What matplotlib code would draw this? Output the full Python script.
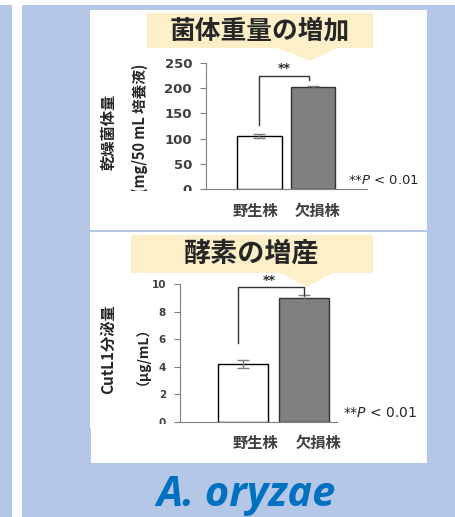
import matplotlib
matplotlib.use("Agg")
import matplotlib.pyplot as plt
from matplotlib.patches import Rectangle, Polygon

plt.rcParams['font.family'] = ['Noto Sans CJK JP', 'DejaVu Sans']

# data
strains = ['野生株', '欠損株']
mass = [105, 202]          # 乾燥菌体量 mg/50 mL
mass_err = [4, 3]
cutl1 = [4.2, 9.0]         # CutL1 分泌量 ug/mL
cutl1_err = [0.3, 0.2]
mass_ticks = [0, 50, 100, 150, 200, 250]
cutl1_ticks = [0, 2, 4, 6, 8, 10]

W, H = 455, 517
BLUE = '#b4c7e7'
TAN = '#fdefc8'
DARK = '#262626'


def fx(x):
    return x / W


def fy(y):
    return 1 - y / H


def fig_rect(fig, x0, y0, x1, y1, color, z):
    fig.patches.append(Rectangle((fx(x0), fy(y1)), fx(x1 - x0), (y1 - y0) / H,
                                 transform=fig.transFigure, facecolor=color,
                                 edgecolor='none', zorder=z))


def title_box(fig, x0, y0, x1, y1, tri, text, size):
    pts = [(x0, y0), (x1, y0), (x1, y1), (tri[1], y1), (tri[2], tri[3]),
           (tri[0], y1), (x0, y1)]
    fig.patches.append(Polygon([(fx(a), fy(b)) for a, b in pts], closed=True,
                               transform=fig.transFigure, facecolor=TAN,
                               edgecolor='none', zorder=0.3))
    fig.text(fx((x0 + x1) / 2), fy((y0 + y1) / 2), text, fontsize=size,
             fontweight='bold', color=DARK, ha='center', va='center', zorder=5)


def make_axes(fig, left, right, top, bottom):
    ax = fig.add_axes([fx(left), fy(bottom), fx(right - left), (bottom - top) / H])
    ax.set_zorder(1)
    ax.patch.set_visible(False)
    for s in ['top', 'right']:
        ax.spines[s].set_visible(False)
    ax.spines['left'].set_color('#7f7f7f')
    ax.spines['bottom'].set_color('#7f7f7f')
    ax.set_xticks([])
    ax.tick_params(axis='y', direction='out', length=4, color='#7f7f7f', pad=6)
    return ax


fig = plt.figure(figsize=(W / 100, H / 100), dpi=100)
fig.patch.set_facecolor('white')

# background
fig_rect(fig, 0, 5, 12, H, BLUE, 0.05)
fig_rect(fig, 22, 5, W, H, BLUE, 0.05)
# white panels
fig_rect(fig, 90, 10, 427, 230, 'white', 0.1)
fig_rect(fig, 90, 232, 427, 428, 'white', 0.1)
fig_rect(fig, 91, 428, 427, 463, 'white', 0.1)

# ---- panel 1 ----
title_box(fig, 147, 13, 373, 48, (277, 337, 310, 61), '菌体重量の増加', 18.5)
ax1 = make_axes(fig, 206, 367, 63, 189)
ax1.bar([0, 1], mass, width=0.84, color=['white', '#7f7f7f'],
        edgecolor=['black', '#333333'], linewidth=1, zorder=2)
ax1.errorbar([0, 1], mass, yerr=mass_err, fmt='none', ecolor='#7f7f7f',
             elinewidth=1, capsize=4, zorder=3)
ax1.set_xlim(-1.0, 2.01)
ax1.set_ylim(0, 250)
ax1.set_yticks(mass_ticks)
for t in ax1.get_yticklabels():
    t.set_fontsize(9.5)
    t.set_fontweight('bold')
    t.set_color('#404040')
    t.set_family('DejaVu Sans')
ax1.plot([0, 0, 0.93, 0.93], [127, 224, 224, 216], color='#333333', lw=1, zorder=3)
ax1.text(0.47, 226, '**', ha='center', va='bottom', fontsize=9,
         fontweight='bold', color=DARK, family='DejaVu Sans')
fig.text(fx(108), fy(132), '乾燥菌体量', rotation=90, ha='center', va='center',
         fontsize=11, fontweight='bold', color=DARK)
fig.text(fx(140), fy(64), '(mg/50 mL 培養液)', rotation=90, ha='center',
         va='top', fontsize=10.5, fontweight='bold', color=DARK, zorder=1.5)
fig.text(fx(348), fy(181), r'**$P$ < 0.01', ha='left', va='center',
         fontsize=9.5, color=DARK, family='DejaVu Sans')
fig_rect(fig, 92, 190.5, 205, 199, 'white', 2)
for xc, name in zip([255, 317], strains):
    fig.text(fx(xc), fy(211), name, ha='center', va='center', fontsize=11,
             fontweight='bold', color='#404040')

# ---- panel 2 ----
title_box(fig, 131, 235, 373, 273, (280, 333, 307, 287), '酵素の増産', 19.5)
ax2 = make_axes(fig, 180, 337, 284, 422)
ax2.bar([0, 1], cutl1, width=0.83, color=['white', '#7f7f7f'],
        edgecolor=['black', '#333333'], linewidth=1, zorder=2)
ax2.errorbar([0, 1], cutl1, yerr=cutl1_err, fmt='none', ecolor='#7f7f7f',
             elinewidth=1, capsize=4, zorder=3)
ax2.set_xlim(-1.04, 1.55)
ax2.set_ylim(0, 10)
ax2.set_yticks(cutl1_ticks)
for t in ax2.get_yticklabels():
    t.set_fontsize(7.5)
    t.set_fontweight('bold')
    t.set_color('#404040')
    t.set_family('DejaVu Sans')
ax2.plot([-0.08, -0.08, 1.0, 1.0], [5.72, 9.78, 9.78, 9.2], color='#333333',
         lw=1, zorder=3)
ax2.text(0.43, 9.8, '**', ha='center', va='bottom', fontsize=9,
         fontweight='bold', color=DARK, family='DejaVu Sans')
fig.text(fx(108), fy(349), 'CutL1分泌量', rotation=90, ha='center', va='center',
         fontsize=11, fontweight='bold', color=DARK)
fig.text(fx(135), fy(349), '（μg/mL）', rotation=90, ha='center', va='center',
         fontsize=10, fontweight='bold', color=DARK)
fig.text(fx(343), fy(413), r'**$P$ < 0.01', ha='left', va='center',
         fontsize=10, color=DARK, family='DejaVu Sans')
fig_rect(fig, 92, 424, 178, 431, 'white', 2)
for xc, name in zip([255, 318], strains):
    fig.text(fx(xc), fy(443), name, ha='center', va='center', fontsize=11,
             fontweight='bold', color='#404040')

# species name
fig.text(fx(246), fy(496), 'A. oryzae', ha='center', va='center', fontsize=30,
         fontweight='bold', style='italic', color='#0070c0',
         family=['Open Sans', 'DejaVu Sans'])

fig.savefig('out.png', dpi=100)
